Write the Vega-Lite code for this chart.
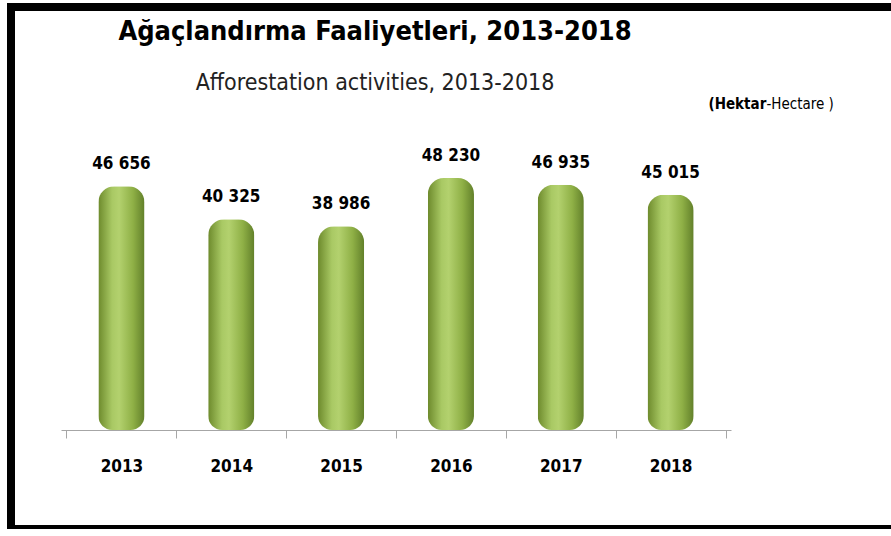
{
  "$schema": "https://vega.github.io/schema/vega-lite/v6.json",
  "width": 890,
  "height": 522,
  "autosize": {"type": "none"},
  "padding": {"left": 11, "top": 7, "right": 0, "bottom": 0},
  "background": "white",
  "title": {
    "text": "Ağaçlandırma  Faaliyetleri, 2013-2018",
    "subtitle": "Afforestation activities, 2013-2018",
    "anchor": "middle",
    "frame": "group",
    "dx": -81,
    "dy": 93,
    "font": "Liberation Sans Narrow, DejaVu Sans Condensed, sans-serif",
    "fontSize": 27,
    "fontWeight": "bold",
    "color": "#000000",
    "subtitleFont": "Liberation Sans Narrow, DejaVu Sans Condensed, sans-serif",
    "subtitleFontSize": 23,
    "subtitleColor": "#222222",
    "subtitlePadding": 26
  },
  "data": {
    "values": [
      {"year": "2013", "hectare": 46656},
      {"year": "2014", "hectare": 40325},
      {"year": "2015", "hectare": 38986},
      {"year": "2016", "hectare": 48230},
      {"year": "2017", "hectare": 46935},
      {"year": "2018", "hectare": 45015}
    ]
  },
  "layer": [
    {
      "mark": {
        "type": "bar",
        "width": {"band": 0.42},
        "cornerRadiusTopLeft": 16,
        "cornerRadiusTopRight": 16,
        "cornerRadiusBottomLeft": 14,
        "cornerRadiusBottomRight": 14,
        "color": {
          "gradient": "linear",
          "x1": 0, "x2": 1, "y1": 0, "y2": 0,
          "stops": [
            {"offset": 0, "color": "#6d8a2c"},
            {"offset": 0.3, "color": "#a9c964"},
            {"offset": 0.45, "color": "#b3d16e"},
            {"offset": 0.75, "color": "#8fb046"},
            {"offset": 1, "color": "#62802a"}
          ]
        }
      },
      "encoding": {
        "x": {
          "field": "year",
          "type": "ordinal",
          "scale": {"range": [50, 720], "paddingInner": 0, "paddingOuter": 0.05},
          "axis": {
            "orient": "bottom",
            "offset": -99,
            "labelAngle": 0,
            "labelFont": "Liberation Sans Narrow, DejaVu Sans Condensed, sans-serif",
            "labelFontSize": 17,
            "labelFontWeight": "bold",
            "labelColor": "#000000",
            "labelPadding": 20,
            "domainColor": "#a6a6a6",
            "tickColor": "#a6a6a6",
            "tickBand": "extent",
            "tickSize": 8,
            "title": "(Hektar",
            "titleFont": "Liberation Sans Narrow, DejaVu Sans Condensed, sans-serif",
            "titleFontSize": 15,
            "titleFontWeight": "bold",
            "titleColor": "#000000",
            "titleAlign": "left",
            "titleBaseline": "middle",
            "titleX": 697,
            "titleY": -327
          }
        },
        "y": {
          "field": "hectare",
          "type": "quantitative",
          "scale": {"range": [423, 171], "zero": true, "nice": false},
          "axis": {
            "orient": "left",
            "labels": false,
            "ticks": false,
            "domain": false,
            "grid": false,
            "title": "-Hectare )",
            "titleAngle": 0,
            "titleFont": "Liberation Sans Narrow, DejaVu Sans Condensed, sans-serif",
            "titleFontSize": 15,
            "titleFontWeight": "normal",
            "titleColor": "#000000",
            "titleAlign": "left",
            "titleBaseline": "middle",
            "titleX": 755,
            "titleY": 96
          }
        }
      }
    },
    {
      "mark": {
        "type": "text",
        "dy": -22,
        "baseline": "middle",
        "font": "Liberation Sans Narrow, DejaVu Sans Condensed, sans-serif",
        "fontSize": 17,
        "fontWeight": "bold",
        "color": "#000000"
      },
      "encoding": {
        "x": {"field": "year", "type": "ordinal"},
        "y": {"field": "hectare", "type": "quantitative"},
        "text": {"field": "hectare", "type": "quantitative", "format": ",d"}
      }
    }
  ],
  "config": {
    "locale": {
      "number": {"decimal": ",", "thousands": " ", "grouping": [3], "currency": ["", " TL"]}
    },
    "view": {"stroke": "#000000", "strokeWidth": 8}
  }
}
